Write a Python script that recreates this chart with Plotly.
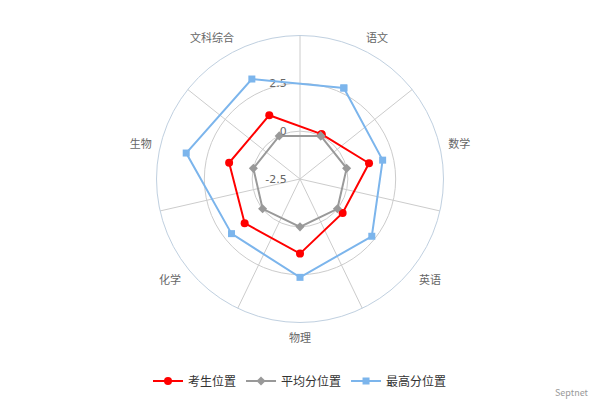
import plotly.graph_objects as go

categories = ["语文", "数学", "英语", "物理", "化学", "生物", "文科综合"]
student = [0.1, 1.2, 0.35, 1.4, 1.2, 1.3, 1.2]
average = [0, 0, 0, 0, 0, 0, 0]
highest = [2.78, 1.93, 2.3, 2.64, 2.08, 3.6, 3.3]
radial_ticks = [-2.5, 0, 2.5]
radial_ticktext = ["-2.5", "0", "2.5"]
r_range = [-2.5, 5]

n = len(categories)
spokes = [i * 360 / n for i in range(n)]

def closed(v):
    return list(v) + [v[0]]

cats_closed = closed(categories)

fig = go.Figure()
# grid-only subplot
fig.add_trace(go.Scatterpolar(r=[], theta=[], subplot="polar", showlegend=False, hoverinfo="skip"))

series = [
    ("考生位置", student, "#ff0000", "circle", 8),
    ("平均分位置", average, "#999999", "diamond", 7),
    ("最高分位置", highest, "#7cb5ec", "square", 7),
]
for name, vals, color, sym, size in series:
    fig.add_trace(go.Scatterpolar(
        r=closed(vals), theta=cats_closed, subplot="polar2", name=name,
        mode="lines+markers",
        line=dict(color=color, width=2),
        marker=dict(symbol=sym, size=size, color=color),
    ))

dom = dict(x=[0, 1], y=[0.19375, 0.91125])
fig.update_layout(
    width=600, height=400,
    margin=dict(l=0, r=0, t=0, b=0),
    paper_bgcolor="white",
    font=dict(family="Noto Sans CJK SC, DejaVu Sans", color="#666666", size=11),
    polar=dict(
        domain=dom,
        bgcolor="rgba(0,0,0,0)",
        angularaxis=dict(type="linear", thetaunit="degrees", direction="clockwise", rotation=90,
                         tickvals=spokes, showticklabels=False, ticks="",
                         showgrid=True, gridcolor="#cccccc", gridwidth=1,
                         showline=True, linecolor="#c0d0e0", linewidth=1),
        radialaxis=dict(range=r_range, tickvals=radial_ticks, ticktext=radial_ticktext,
                        angle=90, tickangle=90, side="counterclockwise",
                        showline=False, ticks="outside", ticklen=9, tickcolor="rgba(0,0,0,0)",
                        showgrid=True, gridcolor="#cccccc",
                        tickfont=dict(family="DejaVu Sans", size=11, color="#666666")),
    ),
    polar2=dict(
        domain=dom,
        bgcolor="rgba(0,0,0,0)",
        angularaxis=dict(type="category", categoryarray=categories, direction="clockwise",
                         rotation=90 - 360 / (2 * n), showgrid=False, showline=False,
                         ticks="outside", ticklen=6, tickcolor="rgba(0,0,0,0)",
                         tickfont=dict(size=11, color="#666666")),
        radialaxis=dict(range=r_range, visible=False),
    ),
    legend=dict(orientation="h", x=0.5, xanchor="center", y=0.0475, yanchor="middle",
                font=dict(size=12, color="#333333"), itemwidth=30),
    annotations=[dict(text="Septnet", x=0.985, y=0.02, xref="paper", yref="paper",
                      xanchor="right", yanchor="middle", showarrow=False,
                      font=dict(size=9, color="#999999"))],
)

fig.write_html("out.html")
